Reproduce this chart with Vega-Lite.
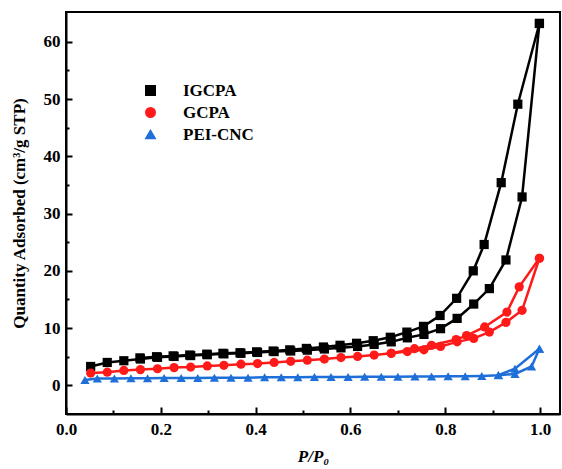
{
  "$schema": "https://vega.github.io/schema/vega-lite/v6.json",
  "width": 494,
  "height": 402,
  "autosize": {"type": "none"},
  "padding": {"left": 66, "top": 12, "right": 2, "bottom": 55},
  "background": "white",
  "config": {
    "view": {"stroke": "black", "strokeWidth": 2},
    "font": "Liberation Serif"
  },
  "data": {
    "values": [
      {"s": "IGCPA", "b": "IGCPA-a", "x": 0.052, "y": 3.3},
      {"s": "IGCPA", "b": "IGCPA-a", "x": 0.087, "y": 4.0},
      {"s": "IGCPA", "b": "IGCPA-a", "x": 0.122, "y": 4.3},
      {"s": "IGCPA", "b": "IGCPA-a", "x": 0.157, "y": 4.6},
      {"s": "IGCPA", "b": "IGCPA-a", "x": 0.193, "y": 4.9},
      {"s": "IGCPA", "b": "IGCPA-a", "x": 0.228, "y": 5.05},
      {"s": "IGCPA", "b": "IGCPA-a", "x": 0.263, "y": 5.2},
      {"s": "IGCPA", "b": "IGCPA-a", "x": 0.298, "y": 5.35},
      {"s": "IGCPA", "b": "IGCPA-a", "x": 0.333, "y": 5.5},
      {"s": "IGCPA", "b": "IGCPA-a", "x": 0.369, "y": 5.6},
      {"s": "IGCPA", "b": "IGCPA-a", "x": 0.404, "y": 5.75},
      {"s": "IGCPA", "b": "IGCPA-a", "x": 0.439, "y": 5.9},
      {"s": "IGCPA", "b": "IGCPA-a", "x": 0.474, "y": 6.0},
      {"s": "IGCPA", "b": "IGCPA-a", "x": 0.509, "y": 6.15},
      {"s": "IGCPA", "b": "IGCPA-a", "x": 0.545, "y": 6.35},
      {"s": "IGCPA", "b": "IGCPA-a", "x": 0.58, "y": 6.55},
      {"s": "IGCPA", "b": "IGCPA-a", "x": 0.615, "y": 6.8},
      {"s": "IGCPA", "b": "IGCPA-a", "x": 0.65, "y": 7.15},
      {"s": "IGCPA", "b": "IGCPA-a", "x": 0.686, "y": 7.6},
      {"s": "IGCPA", "b": "IGCPA-a", "x": 0.72, "y": 8.3},
      {"s": "IGCPA", "b": "IGCPA-a", "x": 0.755, "y": 8.9},
      {"s": "IGCPA", "b": "IGCPA-a", "x": 0.79, "y": 9.9},
      {"s": "IGCPA", "b": "IGCPA-a", "x": 0.825, "y": 11.7},
      {"s": "IGCPA", "b": "IGCPA-a", "x": 0.86, "y": 14.2},
      {"s": "IGCPA", "b": "IGCPA-a", "x": 0.893, "y": 16.9},
      {"s": "IGCPA", "b": "IGCPA-a", "x": 0.928, "y": 21.9},
      {"s": "IGCPA", "b": "IGCPA-a", "x": 0.962, "y": 32.9},
      {"s": "IGCPA", "b": "IGCPA-a", "x": 0.9986, "y": 63.2},
      {"s": "IGCPA", "b": "IGCPA-d", "x": 0.9986, "y": 63.2},
      {"s": "IGCPA", "b": "IGCPA-d", "x": 0.953, "y": 49.1},
      {"s": "IGCPA", "b": "IGCPA-d", "x": 0.918, "y": 35.4},
      {"s": "IGCPA", "b": "IGCPA-d", "x": 0.882, "y": 24.6},
      {"s": "IGCPA", "b": "IGCPA-d", "x": 0.859, "y": 20.0},
      {"s": "IGCPA", "b": "IGCPA-d", "x": 0.824, "y": 15.2},
      {"s": "IGCPA", "b": "IGCPA-d", "x": 0.789, "y": 12.2},
      {"s": "IGCPA", "b": "IGCPA-d", "x": 0.754, "y": 10.3},
      {"s": "IGCPA", "b": "IGCPA-d", "x": 0.719, "y": 9.3},
      {"s": "IGCPA", "b": "IGCPA-d", "x": 0.684, "y": 8.4},
      {"s": "IGCPA", "b": "IGCPA-d", "x": 0.648, "y": 7.8},
      {"s": "IGCPA", "b": "IGCPA-d", "x": 0.613, "y": 7.35},
      {"s": "IGCPA", "b": "IGCPA-d", "x": 0.578, "y": 7.0},
      {"s": "IGCPA", "b": "IGCPA-d", "x": 0.543, "y": 6.7},
      {"s": "IGCPA", "b": "IGCPA-d", "x": 0.507, "y": 6.45},
      {"s": "IGCPA", "b": "IGCPA-d", "x": 0.472, "y": 6.2},
      {"s": "IGCPA", "b": "IGCPA-d", "x": 0.437, "y": 6.0},
      {"s": "IGCPA", "b": "IGCPA-d", "x": 0.402, "y": 5.85},
      {"s": "IGCPA", "b": "IGCPA-d", "x": 0.367, "y": 5.7},
      {"s": "IGCPA", "b": "IGCPA-d", "x": 0.331, "y": 5.6},
      {"s": "IGCPA", "b": "IGCPA-d", "x": 0.297, "y": 5.45},
      {"s": "IGCPA", "b": "IGCPA-d", "x": 0.261, "y": 5.3},
      {"s": "IGCPA", "b": "IGCPA-d", "x": 0.226, "y": 5.15},
      {"s": "IGCPA", "b": "IGCPA-d", "x": 0.191, "y": 5.0},
      {"s": "IGCPA", "b": "IGCPA-d", "x": 0.156, "y": 4.8},
      {"s": "GCPA", "b": "GCPA-a", "x": 0.052, "y": 2.15},
      {"s": "GCPA", "b": "GCPA-a", "x": 0.087, "y": 2.3},
      {"s": "GCPA", "b": "GCPA-a", "x": 0.122, "y": 2.6},
      {"s": "GCPA", "b": "GCPA-a", "x": 0.157, "y": 2.75},
      {"s": "GCPA", "b": "GCPA-a", "x": 0.193, "y": 2.9},
      {"s": "GCPA", "b": "GCPA-a", "x": 0.228, "y": 3.1},
      {"s": "GCPA", "b": "GCPA-a", "x": 0.263, "y": 3.2},
      {"s": "GCPA", "b": "GCPA-a", "x": 0.298, "y": 3.4},
      {"s": "GCPA", "b": "GCPA-a", "x": 0.333, "y": 3.5},
      {"s": "GCPA", "b": "GCPA-a", "x": 0.369, "y": 3.7},
      {"s": "GCPA", "b": "GCPA-a", "x": 0.404, "y": 3.8},
      {"s": "GCPA", "b": "GCPA-a", "x": 0.439, "y": 4.0},
      {"s": "GCPA", "b": "GCPA-a", "x": 0.474, "y": 4.2},
      {"s": "GCPA", "b": "GCPA-a", "x": 0.509, "y": 4.4},
      {"s": "GCPA", "b": "GCPA-a", "x": 0.545, "y": 4.6},
      {"s": "GCPA", "b": "GCPA-a", "x": 0.58, "y": 4.85},
      {"s": "GCPA", "b": "GCPA-a", "x": 0.615, "y": 5.05},
      {"s": "GCPA", "b": "GCPA-a", "x": 0.65, "y": 5.3},
      {"s": "GCPA", "b": "GCPA-a", "x": 0.686, "y": 5.6},
      {"s": "GCPA", "b": "GCPA-a", "x": 0.72, "y": 5.9},
      {"s": "GCPA", "b": "GCPA-a", "x": 0.755, "y": 6.2},
      {"s": "GCPA", "b": "GCPA-a", "x": 0.79, "y": 6.8},
      {"s": "GCPA", "b": "GCPA-a", "x": 0.825, "y": 7.6},
      {"s": "GCPA", "b": "GCPA-a", "x": 0.86, "y": 8.2},
      {"s": "GCPA", "b": "GCPA-a", "x": 0.893, "y": 9.3},
      {"s": "GCPA", "b": "GCPA-a", "x": 0.928, "y": 11.0},
      {"s": "GCPA", "b": "GCPA-a", "x": 0.962, "y": 13.1},
      {"s": "GCPA", "b": "GCPA-a", "x": 0.9986, "y": 22.2},
      {"s": "GCPA", "b": "GCPA-d", "x": 0.9986, "y": 22.2},
      {"s": "GCPA", "b": "GCPA-d", "x": 0.956, "y": 17.2},
      {"s": "GCPA", "b": "GCPA-d", "x": 0.93, "y": 12.8},
      {"s": "GCPA", "b": "GCPA-d", "x": 0.883, "y": 10.2},
      {"s": "GCPA", "b": "GCPA-d", "x": 0.845, "y": 8.7},
      {"s": "GCPA", "b": "GCPA-d", "x": 0.823, "y": 8.0},
      {"s": "GCPA", "b": "GCPA-d", "x": 0.771, "y": 7.0},
      {"s": "GCPA", "b": "GCPA-d", "x": 0.735, "y": 6.4},
      {"s": "GCPA", "b": "GCPA-d", "x": 0.686, "y": 5.6},
      {"s": "PEI-CNC", "b": "PEI-a", "x": 0.04, "y": 0.95},
      {"s": "PEI-CNC", "b": "PEI-a", "x": 0.066, "y": 1.2},
      {"s": "PEI-CNC", "b": "PEI-a", "x": 0.102, "y": 1.2},
      {"s": "PEI-CNC", "b": "PEI-a", "x": 0.137, "y": 1.25},
      {"s": "PEI-CNC", "b": "PEI-a", "x": 0.172, "y": 1.25},
      {"s": "PEI-CNC", "b": "PEI-a", "x": 0.207, "y": 1.3},
      {"s": "PEI-CNC", "b": "PEI-a", "x": 0.243, "y": 1.3},
      {"s": "PEI-CNC", "b": "PEI-a", "x": 0.278, "y": 1.3},
      {"s": "PEI-CNC", "b": "PEI-a", "x": 0.313, "y": 1.35},
      {"s": "PEI-CNC", "b": "PEI-a", "x": 0.348, "y": 1.35},
      {"s": "PEI-CNC", "b": "PEI-a", "x": 0.384, "y": 1.35},
      {"s": "PEI-CNC", "b": "PEI-a", "x": 0.419, "y": 1.4},
      {"s": "PEI-CNC", "b": "PEI-a", "x": 0.454, "y": 1.4},
      {"s": "PEI-CNC", "b": "PEI-a", "x": 0.489, "y": 1.4},
      {"s": "PEI-CNC", "b": "PEI-a", "x": 0.524, "y": 1.45},
      {"s": "PEI-CNC", "b": "PEI-a", "x": 0.559, "y": 1.45},
      {"s": "PEI-CNC", "b": "PEI-a", "x": 0.595, "y": 1.45},
      {"s": "PEI-CNC", "b": "PEI-a", "x": 0.63, "y": 1.5},
      {"s": "PEI-CNC", "b": "PEI-a", "x": 0.665, "y": 1.5},
      {"s": "PEI-CNC", "b": "PEI-a", "x": 0.70, "y": 1.5},
      {"s": "PEI-CNC", "b": "PEI-a", "x": 0.736, "y": 1.55},
      {"s": "PEI-CNC", "b": "PEI-a", "x": 0.771, "y": 1.55},
      {"s": "PEI-CNC", "b": "PEI-a", "x": 0.806, "y": 1.6},
      {"s": "PEI-CNC", "b": "PEI-a", "x": 0.842, "y": 1.6},
      {"s": "PEI-CNC", "b": "PEI-a", "x": 0.877, "y": 1.65},
      {"s": "PEI-CNC", "b": "PEI-a", "x": 0.912, "y": 1.75},
      {"s": "PEI-CNC", "b": "PEI-a", "x": 0.947, "y": 2.0},
      {"s": "PEI-CNC", "b": "PEI-a", "x": 0.982, "y": 3.3},
      {"s": "PEI-CNC", "b": "PEI-a", "x": 0.9986, "y": 6.4},
      {"s": "PEI-CNC", "b": "PEI-d", "x": 0.9986, "y": 6.4},
      {"s": "PEI-CNC", "b": "PEI-d", "x": 0.947, "y": 2.9},
      {"s": "PEI-CNC", "b": "PEI-d", "x": 0.912, "y": 1.8}
    ]
  },
  "resolve": {"axis": {"x": "independent", "y": "independent"}},
  "layer": [
    {
      "mark": {"type": "line", "strokeWidth": 2.5},
      "encoding": {
        "x": {
          "field": "x", "type": "quantitative",
          "scale": {"domain": [0, 1.042], "nice": false, "zero": false},
          "axis": {
            "orient": "bottom",
            "values": [0, 0.2, 0.4, 0.6, 0.8, 1.0],
            "format": ".1f", "labelFlush": false,
            "grid": false,
            "domainColor": "black", "domainWidth": 2,
            "tickColor": "black", "tickWidth": 2, "tickSize": -7,
            "labelPadding": 14,
            "labelFont": "Liberation Serif", "labelFontWeight": "bold", "labelFontSize": 17, "labelColor": "black",
            "title": "P/P₀",
            "titleFont": "Liberation Serif", "titleFontWeight": "bold", "titleFontStyle": "italic", "titleFontSize": 17, "titleColor": "black",
            "titlePadding": 11
          }
        },
        "y": {
          "field": "y", "type": "quantitative",
          "scale": {"domain": [-5, 65.2], "nice": false, "zero": false},
          "axis": {
            "orient": "left",
            "values": [0, 10, 20, 30, 40, 50, 60], "labelFlush": false,
            "grid": false,
            "domainColor": "black", "domainWidth": 2,
            "tickColor": "black", "tickWidth": 2, "tickSize": -6,
            "labelPadding": 12,
            "labelFont": "Liberation Serif", "labelFontWeight": "bold", "labelFontSize": 17, "labelColor": "black",
            "title": "Quantity Adsorbed (cm³/g STP)",
            "titleFont": "Liberation Serif", "titleFontWeight": "bold", "titleFontSize": 17, "titleColor": "black",
            "titlePadding": 15
          }
        },
        "color": {
          "field": "s", "type": "nominal",
          "scale": {"domain": ["IGCPA", "GCPA", "PEI-CNC"], "range": ["#000000", "#FF1A1A", "#1F6FD9"]}
        },
        "detail": {"field": "b"}
      }
    },
    {
      "mark": {"type": "point", "filled": true, "opacity": 1, "size": 85},
      "encoding": {
        "x": {
          "field": "x", "type": "quantitative",
          "scale": {"domain": [0, 1.042], "nice": false, "zero": false},
          "axis": {
            "orient": "bottom",
            "values": [0.1, 0.3, 0.5, 0.7, 0.9],
            "labels": false, "domain": false, "grid": false, "title": null,
            "tickColor": "black", "tickWidth": 2, "tickSize": -4
          }
        },
        "y": {
          "field": "y", "type": "quantitative",
          "scale": {"domain": [-5, 65.2], "nice": false, "zero": false},
          "axis": {
            "orient": "left",
            "values": [5, 15, 25, 35, 45, 55],
            "labels": false, "domain": false, "grid": false, "title": null,
            "tickColor": "black", "tickWidth": 2, "tickSize": -3
          }
        },
        "color": {
          "field": "s", "type": "nominal",
          "legend": {
            "title": null,
            "orient": "none",
            "legendX": 76,
            "legendY": 70,
            "symbolSize": 90,
            "labelOffset": 24,
            "rowPadding": 4,
            "labelFont": "Liberation Serif", "labelFontWeight": "bold", "labelFontSize": 17, "labelColor": "black"
          }
        },
        "shape": {
          "field": "s", "type": "nominal",
          "scale": {"domain": ["IGCPA", "GCPA", "PEI-CNC"], "range": ["square", "circle", "triangle-up"]}
        }
      }
    }
  ]
}
